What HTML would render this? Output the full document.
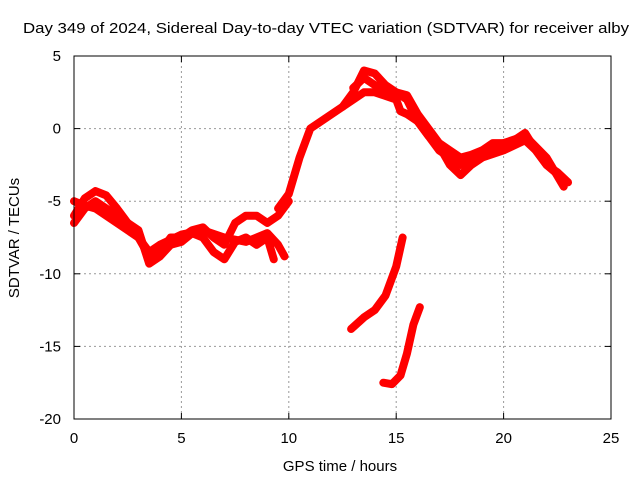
<!DOCTYPE html>
<html><head><meta charset="utf-8"><style>
body{margin:0;background:#fff;}
svg{display:block;font-family:"Liberation Sans",sans-serif;}
</style></head><body>
<svg id="chart" width="640" height="480">
<text x="326" y="33" font-size="15" text-anchor="middle" textLength="606" lengthAdjust="spacingAndGlyphs">Day 349 of 2024, Sidereal Day-to-day VTEC variation (SDTVAR) for receiver alby</text>
<text x="340" y="471" font-size="15" text-anchor="middle">GPS time / hours</text>
<text transform="translate(19,238) rotate(-90)" font-size="15" text-anchor="middle">SDTVAR / TECUs</text>
<g id="grid"></g><g id="ticks"></g><g id="series"></g>
<rect x="74" y="56" width="537" height="363" fill="none" stroke="#000" stroke-width="1"/>
</svg>
<script>
const xTicks=[0,5,10,15,20,25];
const yTicks=[5,0,-5,-10,-15,-20];
const trackA=[[0,-6],[0.5,-4.8],[1,-4.3],[1.5,-4.6],[2,-5.5],[2.5,-6.5],[3,-7.5],[3.5,-8.8],[4,-8.5],[4.5,-7.5],[5,-7.5],[5.5,-7],[6,-6.8],[6.5,-7.5],[7,-8],[7.5,-6.5],[8,-6],[8.5,-6],[9,-6.5],[9.5,-6],[10,-5]];
const trackB=[[0,-6.5],[0.5,-5.5],[1,-5],[2,-6],[3,-7],[3.5,-9.3],[4,-8.8],[4.5,-8],[5,-7.8],[5.5,-7.2],[6,-7.5],[6.5,-8.5],[7,-9],[7.5,-7.8],[8,-7.5],[8.5,-8],[9,-7.5],[9.3,-9]];
const trackC=[[0,-5],[0.5,-5.3],[1,-5.5],[2,-6.5],[3,-7.5],[3.5,-8.5],[4,-8],[5,-7.3],[6,-7],[7,-7.5],[8,-7.8],[9,-7.2],[9.5,-8],[9.8,-8.8]];
const trackD=[[9.5,-5.5],[10,-4.5],[10.5,-2],[11,0],[11.5,0.5],[12,1],[12.5,1.5],[13,2.5],[13.5,4],[14,3.8],[14.5,3],[15,2.5],[15.5,2.3],[16,1],[16.5,0],[17,-1],[17.5,-1.5],[18,-2],[18.5,-1.8],[19,-1.5],[19.5,-1],[20,-1],[20.5,-0.8],[21,-0.3],[21.5,-1.5],[22,-2.5],[22.5,-3],[23,-3.7]];
const trackE=[[12.5,1.5],[13,2],[13.5,2.5],[14,2.5],[15,2],[15.2,1.2],[15.5,1],[16,0.5],[16.5,-0.5],[17,-1.2],[17.5,-2.5],[18,-3.2],[18.5,-2.5],[19,-2],[20,-1.5],[21,-0.8],[21.5,-1.5],[22,-2.5],[22.8,-3.5]];
const trackF=[[13,2.8],[13.5,3.5],[14,3],[14.5,2.8],[15,2.5],[15.5,2],[16,0.5],[17,-1.5],[17.5,-2],[18,-2.5],[18.5,-2],[19,-1.5],[20,-1],[21,-0.5],[22,-2],[22.8,-4]];
const trackG=[[12.9,-13.8],[13.5,-13],[14,-12.5],[14.5,-11.5],[15,-9.5],[15.3,-7.5]];
const trackH=[[14.4,-17.5],[14.8,-17.6],[15.2,-17],[15.5,-15.5],[15.8,-13.5],[16.1,-12.3]];
const tracks=[trackA,trackB,trackC,trackD,trackE,trackF,trackG,trackH];
const X0=74,X1=611,Y0=56,Y1=419;
const xs=v=>X0+(v-0)/25*(X1-X0);
const ys=v=>Y0+(5-v)/25*(Y1-Y0);
const NS="http://www.w3.org/2000/svg";
function mk(t,a,p){const e=document.createElementNS(NS,t);for(const k in a)e.setAttribute(k,a[k]);p.appendChild(e);return e;}
const grid=document.getElementById('grid'),ticks=document.getElementById('ticks'),ser=document.getElementById('series');
xTicks.forEach(v=>{const x=xs(v);
 if(v>0&&v<25){const g=mk('line',{x1:x,x2:x,y1:Y0,y2:Y1,stroke:'#999','stroke-dasharray':'2,3'},grid);
 
 }
 mk('line',{x1:x,x2:x,y1:Y1,y2:Y1-6,stroke:'#000'},ticks);mk('line',{x1:x,x2:x,y1:Y0,y2:Y0+6,stroke:'#000'},ticks);
 const t=mk('text',{x:x,y:Y1+24,'font-size':15,'text-anchor':'middle'},ticks);t.textContent=v;
 
 });
yTicks.forEach(v=>{const y=ys(v);
 if(v<5&&v>-20){const g=mk('line',{x1:X0,x2:X1,y1:y,y2:y,stroke:'#999','stroke-dasharray':'2,3'},grid);
 
 }
 mk('line',{x1:X0,x2:X0+6,y1:y,y2:y,stroke:'#000'},ticks);mk('line',{x1:X1,x2:X1-6,y1:y,y2:y,stroke:'#000'},ticks);
 const t=mk('text',{x:X0-13,y:y+5,'font-size':15,'text-anchor':'end'},ticks);t.textContent=v;
 
 });
tracks.forEach((tr,i)=>{
 const p=mk('polyline',{points:tr.map(d=>xs(d[0])+','+ys(d[1])).join(' '),fill:'none',stroke:'#f00','stroke-width':8,'stroke-linejoin':'round','stroke-linecap':'round'},ser);
 
 
});
</script>
</body></html>
